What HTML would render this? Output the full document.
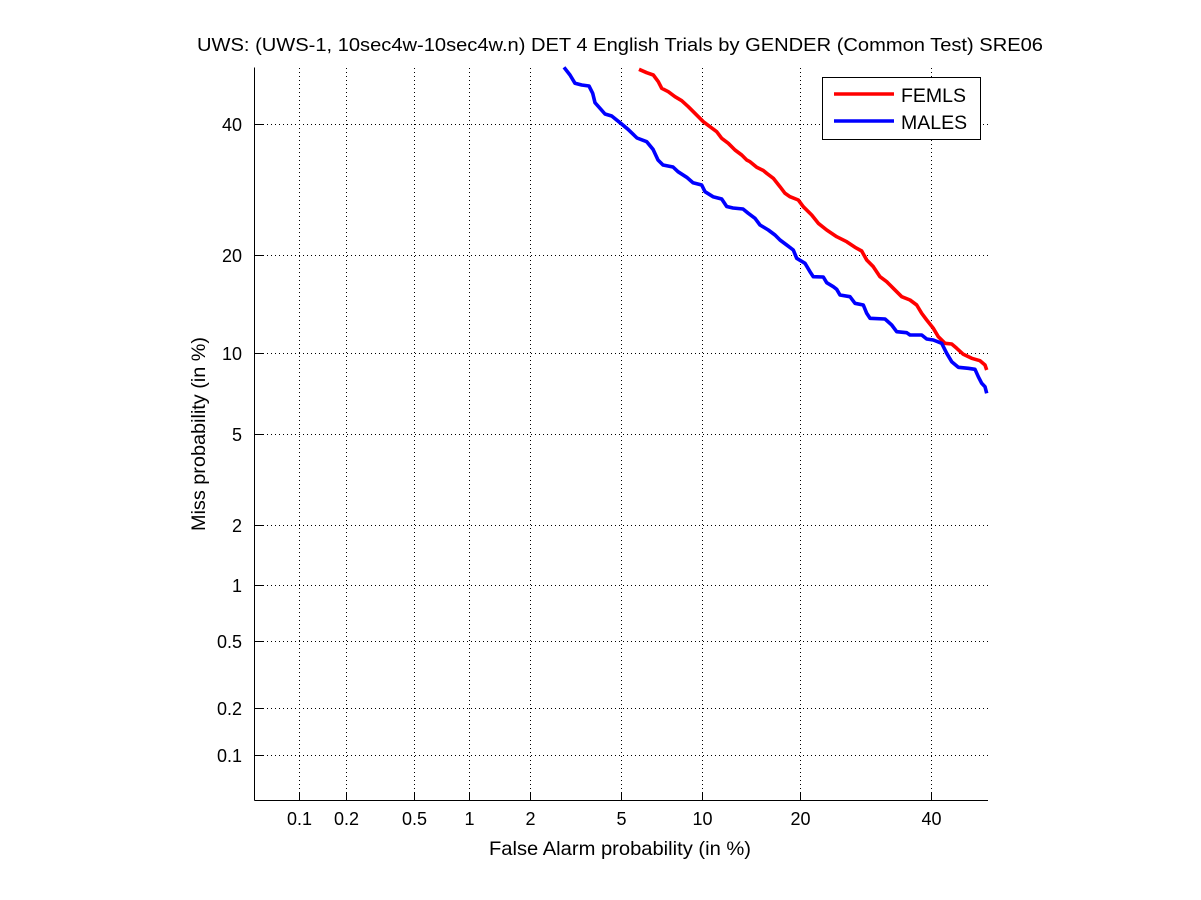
<!DOCTYPE html>
<html>
<head>
<meta charset="utf-8">
<style>
  html, body { margin: 0; padding: 0; background: #ffffff; }
  svg { display: block; }
  text { font-family: "Liberation Sans", "DejaVu Sans", sans-serif; fill: #000; }
</style>
</head>
<body>
<svg width="1201" height="900" viewBox="0 0 1201 900" xmlns="http://www.w3.org/2000/svg">
  <rect x="0" y="0" width="1201" height="900" fill="#ffffff"/>

  <!-- grid: vertical -->
  <g stroke="#000" stroke-width="1" stroke-dasharray="1,3" fill="none">
    <line x1="299.5" y1="68" x2="299.5" y2="800"/>
    <line x1="346.5" y1="68" x2="346.5" y2="800"/>
    <line x1="414.5" y1="68" x2="414.5" y2="800"/>
    <line x1="469.5" y1="68" x2="469.5" y2="800"/>
    <line x1="530.5" y1="68" x2="530.5" y2="800"/>
    <line x1="621.5" y1="68" x2="621.5" y2="800"/>
    <line x1="702.5" y1="68" x2="702.5" y2="800"/>
    <line x1="800.5" y1="68" x2="800.5" y2="800"/>
    <line x1="931.5" y1="68" x2="931.5" y2="800"/>
    <!-- horizontal -->
    <line x1="255" y1="124.5" x2="988" y2="124.5"/>
    <line x1="255" y1="255.5" x2="988" y2="255.5"/>
    <line x1="255" y1="353.5" x2="988" y2="353.5"/>
    <line x1="255" y1="434.5" x2="988" y2="434.5"/>
    <line x1="255" y1="525.5" x2="988" y2="525.5"/>
    <line x1="255" y1="585.5" x2="988" y2="585.5"/>
    <line x1="255" y1="641.5" x2="988" y2="641.5"/>
    <line x1="255" y1="708.5" x2="988" y2="708.5"/>
    <line x1="255" y1="755.5" x2="988" y2="755.5"/>
  </g>

  <!-- axes lines -->
  <g stroke="#000" stroke-width="1" fill="none">
    <line x1="254.5" y1="67.5" x2="254.5" y2="800.5"/>
    <line x1="254.5" y1="800.5" x2="988" y2="800.5"/>
    <!-- x ticks -->
    <line x1="299.5" y1="800" x2="299.5" y2="792"/>
    <line x1="346.5" y1="800" x2="346.5" y2="792"/>
    <line x1="414.5" y1="800" x2="414.5" y2="792"/>
    <line x1="469.5" y1="800" x2="469.5" y2="792"/>
    <line x1="530.5" y1="800" x2="530.5" y2="792"/>
    <line x1="621.5" y1="800" x2="621.5" y2="792"/>
    <line x1="702.5" y1="800" x2="702.5" y2="792"/>
    <line x1="800.5" y1="800" x2="800.5" y2="792"/>
    <line x1="931.5" y1="800" x2="931.5" y2="792"/>
    <!-- y ticks -->
    <line x1="255" y1="124.5" x2="263" y2="124.5"/>
    <line x1="255" y1="255.5" x2="263" y2="255.5"/>
    <line x1="255" y1="353.5" x2="263" y2="353.5"/>
    <line x1="255" y1="434.5" x2="263" y2="434.5"/>
    <line x1="255" y1="525.5" x2="263" y2="525.5"/>
    <line x1="255" y1="585.5" x2="263" y2="585.5"/>
    <line x1="255" y1="641.5" x2="263" y2="641.5"/>
    <line x1="255" y1="708.5" x2="263" y2="708.5"/>
    <line x1="255" y1="755.5" x2="263" y2="755.5"/>
  </g>

  <!-- curves -->
  <polyline fill="none" stroke="#ff0000" stroke-width="3.6" stroke-linejoin="round" stroke-linecap="butt"
    points="639,69.3 646.7,72.7 653.3,75 658.3,81.7 661.7,88.3 668.3,91.7 675,96.7 681.7,100.7 688.3,106.7 693.3,111.7 698.3,116.7 703.3,121.7 710,126.7 716.7,131.7 721.7,138.3 728.3,143.3 735,150 741.7,155 746.7,160 750,161.7 756.7,167.3 763.3,170.5 766.7,173.3 773.3,178.3 780,186.7 785,193.3 790,196.7 798.3,200 803.3,206.7 811.7,215 818.3,223.3 826.7,230 836.7,236.7 846.7,241.7 855,247.3 861.7,251 866.7,260 873.3,266.7 880,276.7 886.7,281.7 893.3,288.3 901.7,296.7 910,300 916.7,305 921.7,313.3 926.7,320 933.3,328.3 938.3,336.7 945,343.3 951.7,344 956.7,348.3 963.3,354.3 971.7,358.3 980,360.7 985,365 986.7,370"/>
  <polyline fill="none" stroke="#0000ff" stroke-width="3.6" stroke-linejoin="round" stroke-linecap="butt"
    points="564,67.3 570,75 575,83.3 581.7,85 589,86 592.7,93.3 595,102.7 600,108.3 605,114 611.7,116 620,122.7 628,129.3 637,138 646.7,141.7 653,149.3 658,160 663,165 673,167 678,171.7 686.7,177.3 693,182.7 701.7,185 705,191.7 713,196.7 721.7,199 726.7,206.5 733,208 743,209 748.3,213.3 755,218.3 760,225 768.3,230 775,235 780,240 786.7,245 793.3,250 796.7,258.3 805,263.3 810,271.7 813.3,276.7 823.3,277 826.7,282.7 833.3,286.7 836.7,289.3 840,295 850,296.7 855,303.3 863.3,305 866.7,313.3 870,318.3 885,319 891.7,325 896.7,331.7 906.7,332.7 910,335 921.7,335 926.7,339 933.3,340 941.7,343.3 946.7,353.3 951.7,361.7 958.3,367.3 968.3,368.3 975,369.3 978.3,376.7 981.7,383.3 985,386.7 986.7,393.3"/>

  <!-- legend -->
  <rect x="822.5" y="77.5" width="158" height="62" fill="#ffffff" stroke="#000" stroke-width="1"/>
  <line x1="834" y1="94" x2="894" y2="94" stroke="#ff0000" stroke-width="3.6"/>
  <line x1="834" y1="121" x2="894" y2="121" stroke="#0000ff" stroke-width="3.6"/>
  <text x="901" y="102" font-size="19.5">FEMLS</text>
  <text x="901" y="129" font-size="19.5">MALES</text>

  <!-- title -->
  <text x="620" y="51" font-size="18" text-anchor="middle" textLength="846" lengthAdjust="spacingAndGlyphs">UWS: (UWS-1, 10sec4w-10sec4w.n) DET 4 English Trials by GENDER (Common Test) SRE06</text>

  <!-- x tick labels -->
  <g font-size="18" text-anchor="middle">
    <text x="299.5" y="825">0.1</text>
    <text x="346.5" y="825">0.2</text>
    <text x="414.5" y="825">0.5</text>
    <text x="469.5" y="825">1</text>
    <text x="530.5" y="825">2</text>
    <text x="621.5" y="825">5</text>
    <text x="702.5" y="825">10</text>
    <text x="800.5" y="825">20</text>
    <text x="931.5" y="825">40</text>
  </g>

  <!-- y tick labels -->
  <g font-size="18" text-anchor="end">
    <text x="242" y="131">40</text>
    <text x="242" y="262">20</text>
    <text x="242" y="360">10</text>
    <text x="242" y="441">5</text>
    <text x="242" y="532">2</text>
    <text x="242" y="592">1</text>
    <text x="242" y="648">0.5</text>
    <text x="242" y="715">0.2</text>
    <text x="242" y="762">0.1</text>
  </g>

  <!-- axis labels -->
  <text x="620" y="855" font-size="19.5" text-anchor="middle" textLength="262" lengthAdjust="spacingAndGlyphs">False Alarm probability (in %)</text>
  <text transform="translate(205,434) rotate(-90)" x="0" y="0" font-size="19.5" text-anchor="middle" textLength="194" lengthAdjust="spacingAndGlyphs">Miss probability (in %)</text>
</svg>
</body>
</html>
